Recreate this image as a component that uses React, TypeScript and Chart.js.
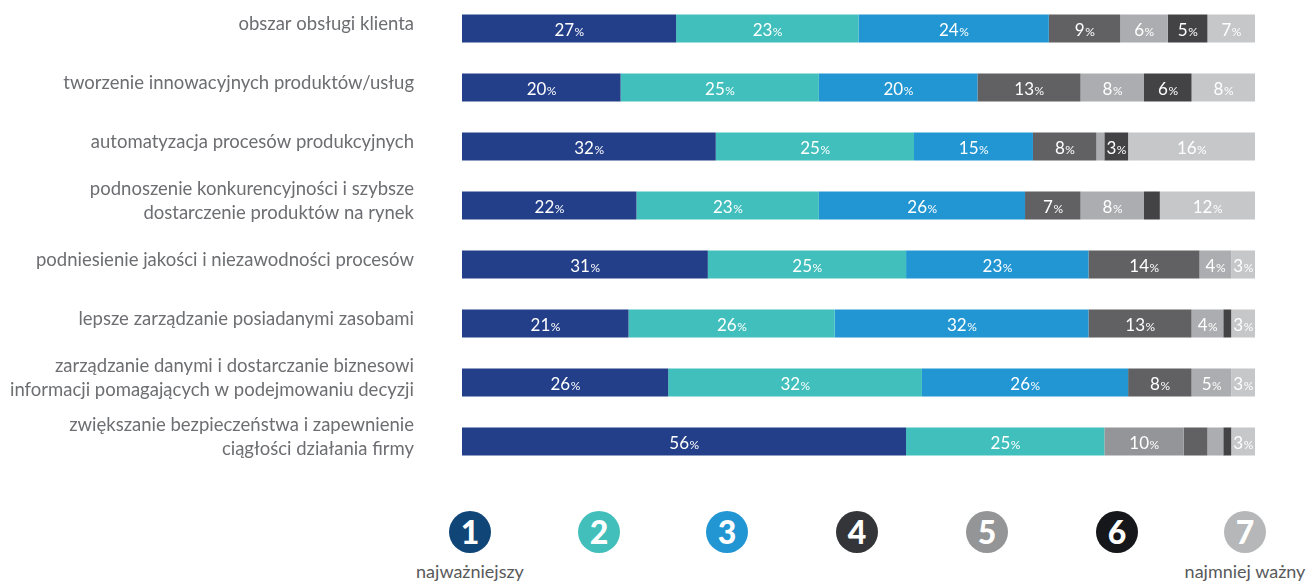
import React, { useEffect, useRef } from "react";
import { Chart, registerables } from "chart.js";

Chart.register(...registerables);

const categories: (string | string[])[] = [
  "obszar obsługi klienta",
  "tworzenie innowacyjnych produktów/usług",
  "automatyzacja procesów produkcyjnych",
  ["podnoszenie konkurencyjności i szybsze", "dostarczenie produktów na rynek"],
  "podniesienie jakości i niezawodności procesów",
  "lepsze zarządzanie posiadanymi zasobami",
  ["zarządzanie danymi i dostarczanie biznesowi", "informacji pomagających w podejmowaniu decyzji"],
  ["zwiększanie bezpieczeństwa i zapewnienie", "ciągłości działania firmy"],
];

const rank1 = [27, 20, 32, 22, 31, 21, 26, 56];
const rank2 = [23, 25, 25, 23, 25, 26, 32, 25];
const rank3 = [24, 20, 15, 26, 23, 32, 26, 10];
const rank4 = [9, 13, 8, 7, 14, 13, 8, 3];
const rank5 = [6, 8, 1, 8, 4, 4, 5, 2];
const rank6 = [5, 6, 3, 2, 0, 1, 0, 1];
const rank7 = [7, 8, 16, 12, 3, 3, 3, 3];

const seriesNames = ["1", "2", "3", "4", "5", "6", "7"];
const seriesColors = ["#243f89", "#41bfbc", "#2196d3", "#616163", "#acadb0", "#434346", "#c6c7c9"];
const rank3RowColors = ["#2196d3", "#2196d3", "#2196d3", "#2196d3", "#2196d3", "#2196d3", "#2196d3", "#939598"];
const legendColors = ["#0f4577", "#43bfbb", "#2196d3", "#333538", "#949596", "#15171a", "#b5b7b8"];
const legendLeftText = "najważniejszy";
const legendRightText = "najmniej ważny";
const hiddenLabels: [number, number][] = [[7, 3]];
const minLabelValue = 3;

const valueLabelPlugin = {
  id: "valueLabels",
  afterDatasetsDraw(chart: any) {
    const ctx = chart.ctx;
    const area = chart.chartArea;
    ctx.save();
    chart.data.datasets.forEach((ds: any, di: number) => {
      const meta = chart.getDatasetMeta(di);
      meta.data.forEach((bar: any, i: number) => {
        const v = ds.data[i];
        if (v < minLabelValue) return;
        if (hiddenLabels.some(([r, d]) => r === i && d === di)) return;
        const left = Math.max(Math.min(bar.x, bar.base), area.left);
        const right = Math.min(Math.max(bar.x, bar.base), area.right);
        const cx = (left + right) / 2;
        const cy = bar.y;
        const num = String(v);
        ctx.font = "17px Lato";
        const wn = ctx.measureText(num).width;
        ctx.font = "12px Lato";
        const wp = ctx.measureText("%").width;
        const start = cx - (wn + wp) / 2;
        ctx.fillStyle = "#ffffff";
        ctx.textBaseline = "alphabetic";
        ctx.textAlign = "left";
        ctx.font = "17px Lato";
        ctx.fillText(num, start, cy + 7);
        ctx.font = "12px Lato";
        ctx.fillText("%", start + wn + 0.5, cy + 7);
      });
    });
    ctx.restore();
  },
};

export default function App() {
  const ref = useRef<HTMLCanvasElement | null>(null);

  useEffect(() => {
    if (!ref.current) return;
    const all = [rank1, rank2, rank3, rank4, rank5, rank6, rank7];
    const chart = new Chart(ref.current, {
      type: "bar",
      data: {
        labels: categories,
        datasets: all.map((d, k) => ({
          label: seriesNames[k],
          data: d,
          backgroundColor: k === 2 ? rank3RowColors : seriesColors[k],
          borderWidth: 0,
          barPercentage: 1,
          categoryPercentage: 0.475,
        })),
      },
      options: {
        indexAxis: "y",
        animation: false,
        responsive: false,
        maintainAspectRatio: false,
        layout: { padding: { left: 0, right: 59, top: 0, bottom: 0 } },
        plugins: {
          legend: { display: false },
          tooltip: { enabled: false },
        },
        scales: {
          x: {
            stacked: true,
            min: 0,
            max: 100,
            display: false,
          },
          y: {
            stacked: true,
            grid: { display: false, drawTicks: false },
            border: { display: false },
            ticks: {
              color: "#6d6e71",
              font: { family: "Lato", size: 18.5, lineHeight: 1.3 },
              padding: 48,
              labelOffset: -4,
            },
            afterFit(scale: any) {
              scale.width = 462;
              scale.paddingTop = 0;
              scale.paddingBottom = 0;
            },
          },
        },
      },
      plugins: [valueLabelPlugin],
    } as any);
    return () => chart.destroy();
  }, []);

  const centers = [470, 599, 727, 857, 987, 1117, 1245];

  return (
    <div style={{ position: "absolute", left: 0, top: 0, width: 1314, height: 581, background: "#fff", fontFamily: "Lato" }}>
      <div style={{ position: "absolute", left: 0, top: -1, width: 1314, height: 472 }}>
        <canvas ref={ref} width={1314} height={472} style={{ width: 1314, height: 472, display: "block" }} />
      </div>
      {seriesNames.map((n, k) => (
        <div
          key={n}
          style={{
            position: "absolute",
            left: centers[k] - 21,
            top: 511,
            width: 42,
            height: 42,
            borderRadius: "50%",
            background: legendColors[k],
            color: "#fff",
            fontFamily: "Lato",
            fontWeight: 900,
            fontSize: 32,
            lineHeight: "42px",
            textAlign: "center",
          }}
        >
          {n}
        </div>
      ))}
      <div style={{ position: "absolute", left: centers[0] - 80, width: 160, top: 560, textAlign: "center", fontSize: 18, lineHeight: "22px", color: "#58595b", fontFamily: "Lato" }}>
        {legendLeftText}
      </div>
      <div style={{ position: "absolute", left: centers[6] - 80, width: 160, top: 560, textAlign: "center", fontSize: 18, lineHeight: "22px", color: "#58595b", fontFamily: "Lato" }}>
        {legendRightText}
      </div>
    </div>
  );
}
